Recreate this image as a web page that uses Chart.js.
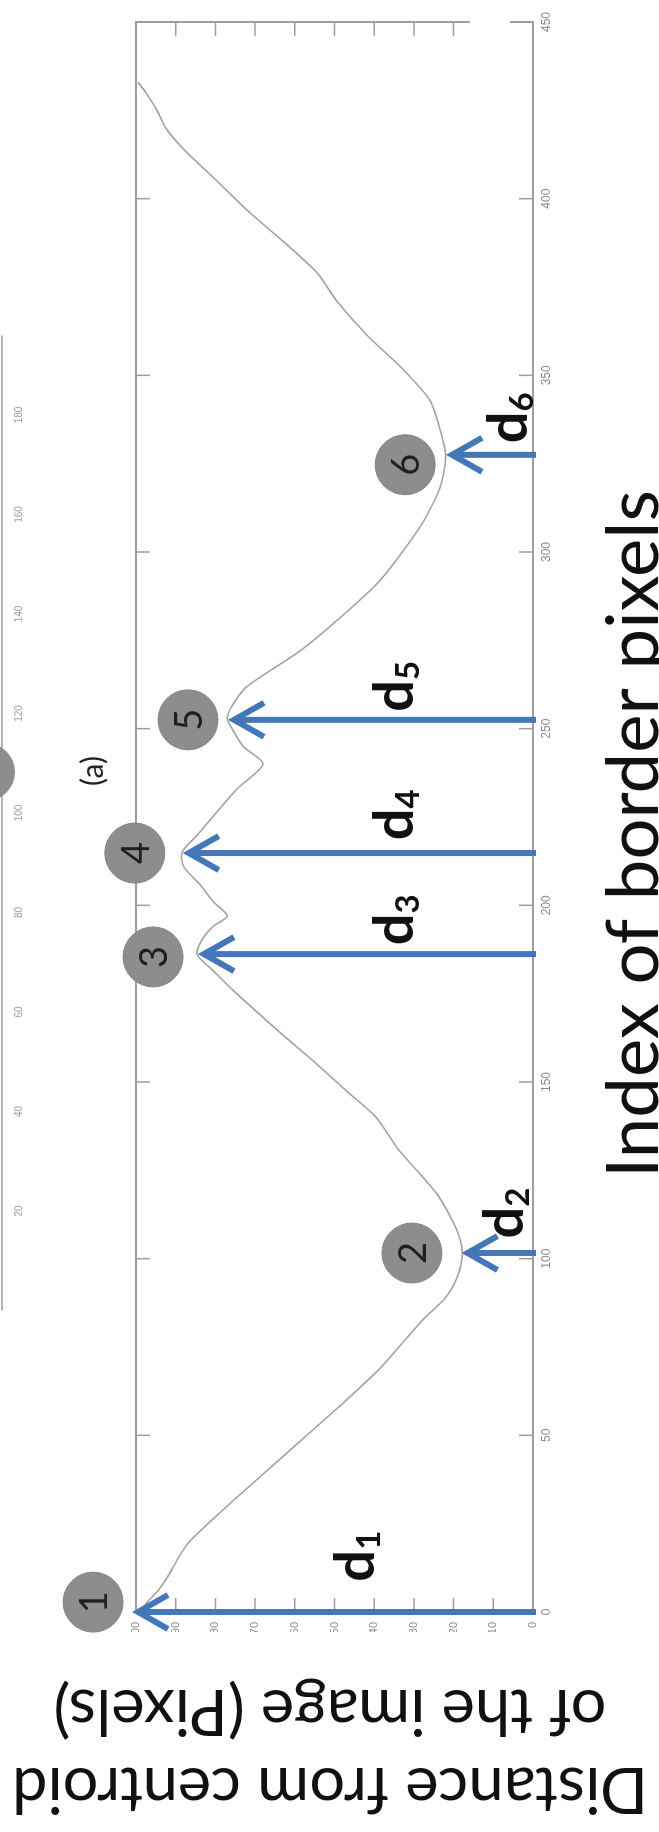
<!DOCTYPE html>
<html>
<head>
<meta charset="utf-8">
<title>Index of border pixels</title>
<script src="https://cdn.jsdelivr.net/npm/chart.js@4.4.1/dist/chart.umd.min.js"></script>
<style>
  html, body { margin: 0; padding: 0; background: #fff; overflow: hidden; }
  #page { position: relative; width: 659px; height: 1832px; overflow: hidden; background: #fff; }
  /* the figure is stored turned a quarter turn counter-clockwise */
  #turn { position: absolute; left: 0; top: 0; width: 1832px; height: 659px;
          transform-origin: 0 0; transform: translate(0px, 1832px) rotate(-90deg); }
  canvas { display: block; }
</style>
</head>
<body>
<div id="page"><div id="turn"><canvas id="chart" width="1832" height="659"></canvas></div></div>
<script>
// ---- data ----
const curveX = [0, 3, 6, 10, 15, 20, 30, 40, 50, 60, 69, 76, 83, 89, 95, 101, 106, 111, 118, 124,
  131, 140, 147, 155, 164, 176, 182, 186, 190, 194, 197, 201, 206, 211, 215, 220, 227, 233, 240,
  245, 250, 253, 257, 262, 272, 282, 292, 307, 318, 327, 335, 343, 352, 361, 371, 379, 388, 396,
  405, 414, 420, 425, 430, 433];
const curveY = [99, 97, 94.5, 92, 89.5, 86.5, 77, 67, 57, 47, 38.5, 33, 27.5, 22, 19, 17.8, 18.5, 20.4, 24, 28.5,
  34, 39.5, 46.5, 54.4, 63.7, 75.6, 81, 84.6, 83.5, 80.6, 77, 80.5, 84, 88, 88.4, 84.5, 79.2, 74.5, 68,
  73, 75.8, 77, 75.5, 72, 58.7, 48, 38.5, 28.5, 23.5, 22, 23.5, 26, 33, 41.5, 49.4, 54.4, 63, 71.3,
  79.6, 88, 92.5, 94.7, 97.5, 99.5];

const arrowX   = [0, 101.6, 186.2, 214.8, 252.5, 327.5];
const arrowTip = [100, 17, 83.4, 87.2, 75.8, 20.9];

const markerX    = [2.8, 101.6, 185.4, 214.8, 252.5, 324.7];
const markerY    = [110.8, 30.5, 95.7, 100.3, 86.9, 32.2];
const markerText = ['1', '2', '3', '4', '5', '6'];

const labelX   = [15.8, 112.9, 195.9, 225.6, 262, 338];
const labelY   = [40, 2.5, 30.2, 30.2, 30.2, 1.5];
const labelSub = ['1', '2', '3', '4', '5', '6'];

const xTicks = [0, 50, 100, 150, 200, 250, 300, 350, 400, 450];
const yTicks = [0, 10, 20, 30, 40, 50, 60, 70, 80, 90, 100];

const xTitle = 'Index of border pixels';
const yTitle = ['Distance from centroid', 'of the image (Pixels)'];

// strip left over from panel (a) above this one
const prevTicks = [20, 40, 60, 80, 100, 120, 140, 160, 180];
const prevLabel = '(a)';

// ---- styles ----
const FRAME = '#9e9e9e';
const CURVE = '#a3a3a3';
const BLUE = '#4477b8';
const DOT = '#8d8d8d';
const FONT = 'Lato, "Open Sans", sans-serif';

function fitSize(ctx, text, width, weight) {
  ctx.font = weight + ' 100px ' + FONT;
  return 100 * width / ctx.measureText(text).width;
}

const decor = {
  id: 'decor',
  beforeDatasetsDraw(chart) {
    const { ctx, chartArea: a, scales: { x, y } } = chart;
    ctx.save();
    ctx.strokeStyle = FRAME;
    ctx.lineWidth = 2;
    ctx.strokeRect(a.left, a.top, a.right - a.left, a.bottom - a.top);
    ctx.lineWidth = 1.5;
    ctx.beginPath();
    xTicks.forEach(v => {
      const px = x.getPixelForValue(v);
      ctx.moveTo(px, a.bottom); ctx.lineTo(px, a.bottom - 14);
      ctx.moveTo(px, a.top); ctx.lineTo(px, a.top + 14);
    });
    yTicks.forEach(v => {
      const py = y.getPixelForValue(v);
      ctx.moveTo(a.left, py); ctx.lineTo(a.left + 14, py);
      ctx.moveTo(a.right, py); ctx.lineTo(a.right - 14, py);
    });
    ctx.stroke();
    // the right edge of the box is broken near the bottom in the scan
    ctx.fillStyle = '#fff';
    ctx.fillRect(a.right - 16, y.getPixelForValue(15.9), 19, y.getPixelForValue(5.8) - y.getPixelForValue(15.9));
    ctx.restore();
  },
  afterDatasetsDraw(chart) {
    const { ctx, scales: { x, y } } = chart;
    ctx.save();
    // arrows from the axis up to the curve
    ctx.strokeStyle = BLUE;
    ctx.lineWidth = 6;
    ctx.lineJoin = 'miter';
    arrowX.forEach((v, i) => {
      const px = x.getPixelForValue(v);
      const base = y.getPixelForValue(0) + 3;
      const tip = y.getPixelForValue(arrowTip[i]);
      ctx.beginPath();
      ctx.moveTo(px, base); ctx.lineTo(px, tip + 2);
      ctx.stroke();
      ctx.beginPath();
      ctx.moveTo(px - 17, tip + 32); ctx.lineTo(px, tip + 2); ctx.lineTo(px + 17, tip + 32);
      ctx.stroke();
    });
    // grey numbered dots (dot 1 sits outside the plot box)
    markerX.forEach((v, i) => {
      ctx.beginPath();
      ctx.arc(x.getPixelForValue(v), y.getPixelForValue(markerY[i]), 30, 0, Math.PI * 2);
      ctx.fillStyle = DOT;
      ctx.fill();
      ctx.strokeStyle = '#848484';
      ctx.lineWidth = 1;
      ctx.stroke();
    });
    ctx.fillStyle = '#1f1f1f';
    ctx.font = '38px ' + FONT;
    ctx.textAlign = 'center';
    ctx.textBaseline = 'middle';
    markerText.forEach((t, i) => {
      ctx.fillText(t, x.getPixelForValue(markerX[i]), y.getPixelForValue(markerY[i]) + 2);
    });
    // d labels
    ctx.fillStyle = '#111';
    ctx.textBaseline = 'alphabetic';
    ctx.textAlign = 'left';
    labelX.forEach((v, i) => {
      ctx.font = 'bold 56px ' + FONT;
      const wd = ctx.measureText('d').width;
      ctx.font = 'bold 33px ' + FONT;
      const ws = ctx.measureText(labelSub[i]).width;
      const left = x.getPixelForValue(v) - (wd + ws) / 2;
      const base = y.getPixelForValue(labelY[i]);
      ctx.font = 'bold 56px ' + FONT;
      ctx.fillText('d', left, base);
      ctx.font = 'bold 33px ' + FONT;
      ctx.fillText(labelSub[i], left + wd, base + 6);
    });
    ctx.restore();
  },
  afterDraw(chart) {
    const { ctx } = chart;
    ctx.save();
    ctx.fillStyle = '#111';
    // x title
    const sx = fitSize(ctx, xTitle, 688, 'normal');
    ctx.font = sx + 'px ' + FONT;
    ctx.textAlign = 'center';
    ctx.textBaseline = 'alphabetic';
    ctx.fillText(xTitle, 998, 658);
    // y title, two lines read upwards
    const sy = fitSize(ctx, yTitle[0], 636, 'normal');
    ctx.font = sy + 'px ' + FONT;
    [64, 142].forEach((u, i) => {
      ctx.save();
      ctx.translate(u, 330);
      ctx.rotate(-Math.PI / 2);
      ctx.fillText(yTitle[i], 0, 0);
      ctx.restore();
    });
    // remains of panel (a)
    ctx.strokeStyle = '#b5b5b5';
    ctx.lineWidth = 2;
    ctx.beginPath();
    ctx.moveTo(521.5, 2); ctx.lineTo(521.5 + 196 * 4.975, 2);
    ctx.stroke();
    ctx.fillStyle = '#9a9a9a';
    ctx.font = '10px "Liberation Sans", sans-serif';
    ctx.textBaseline = 'middle';
    prevTicks.forEach(v => ctx.fillText(String(v), 521.5 + v * 4.975, 19));
    ctx.fillStyle = DOT;
    ctx.beginPath();
    ctx.arc(1060, -14, 29, 0, Math.PI * 2);
    ctx.fill();
    ctx.fillStyle = '#222';
    ctx.font = '30px ' + FONT;
    ctx.fillText(prevLabel, 1061, 93);
    ctx.restore();
  }
};

new Chart(document.getElementById('chart'), {
  type: 'scatter',
  data: {
    datasets: [{
      data: curveX.map((v, i) => ({ x: v, y: curveY[i] })),
      showLine: true,
      borderColor: CURVE,
      borderWidth: 1.6,
      pointRadius: 0,
      tension: 0.25
    }]
  },
  options: {
    responsive: false,
    animation: false,
    devicePixelRatio: 1,
    layout: { padding: { left: 200, right: 22, top: 136, bottom: 106 } },
    plugins: { legend: { display: false }, tooltip: { enabled: false } },
    scales: {
      x: {
        type: 'linear', min: 0, max: 450,
        afterFit: s => { s.height = 20; },
        afterBuildTicks: s => { s.ticks = xTicks.map(v => ({ value: v })); },
        grid: { display: false, drawTicks: false },
        border: { display: false },
        ticks: { color: '#8a8a8a', padding: 6, maxRotation: 0, font: { size: 12, family: '"Liberation Sans", sans-serif' } }
      },
      y: {
        type: 'linear', min: 0, max: 100,
        afterFit: s => { s.width = 20; },
        afterBuildTicks: s => { s.ticks = yTicks.map(v => ({ value: v })); },
        grid: { display: false, drawTicks: false },
        border: { display: false },
        ticks: { color: '#8a8a8a', padding: 10, font: { size: 11, family: '"Liberation Sans", sans-serif' } }
      }
    }
  },
  plugins: [decor]
});
</script>
</body>
</html>
